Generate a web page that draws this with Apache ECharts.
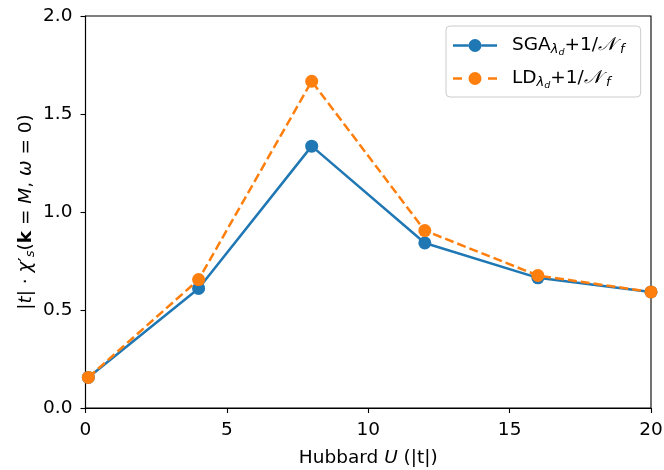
<!DOCTYPE html>
<html>
<head>
<meta charset="utf-8">
<script src="https://cdn.jsdelivr.net/npm/echarts@6/dist/echarts.min.js"></script>
<style>
  html, body { margin: 0; padding: 0; background: #fff; }
  #chart { width: 664px; height: 470px; }
</style>
</head>
<body>
<div id="chart"></div>
<script>
// Hubbard U values (in units of |t|)
const hubbardU = [0.1, 4, 8, 12, 16, 20];
// |t| * chi'_s(k = M, omega = 0) for each approach
const sgaValues = [0.156, 0.610, 1.336, 0.842, 0.664, 0.592];
const ldValues  = [0.156, 0.655, 1.667, 0.905, 0.676, 0.592];
const xTicks = [0, 5, 10, 15, 20];
const yTicks = [0.0, 0.5, 1.0, 1.5, 2.0];

const FONT = 'DejaVu Sans';
const FS = 18.5;
const BLUE = '#1f77b4';
const ORANGE = '#ff7f0e';

const pair = (xs, ys) => xs.map((x, i) => [x, ys[i]]);

// Legend glyphs (44 x 13 box): line with a centred dot, solid or dashed.
const DOT = 'M28.5 6.5 A6.5 6.5 0 1 1 15.5 6.5 A6.5 6.5 0 1 1 28.5 6.5 Z';
const SOLID_ICON = 'path://M0 5.3 L15.5 5.3 L15.5 7.7 L0 7.7 Z M28.5 5.3 L44 5.3 L44 7.7 L28.5 7.7 Z ' + DOT;
const DASH_ICON = 'path://M0 5.3 L9 5.3 L9 7.7 L0 7.7 Z M35 5.3 L44 5.3 L44 7.7 L35 7.7 Z ' + DOT;

const subRich = {
  n: { fontFamily: FONT, fontSize: FS, color: '#000' },
  i: { fontFamily: FONT, fontSize: FS, fontStyle: 'italic', color: '#000' },
  b: { fontFamily: FONT, fontSize: FS, fontWeight: 'bold', color: '#000' },
  sp: { width: 10 },
  sub: { fontFamily: FONT, fontSize: 13, fontStyle: 'italic', color: '#000', padding: [9, 0, 0, 0] },
  subd: { fontFamily: FONT, fontSize: 9.5, fontStyle: 'italic', color: '#000', padding: [15, 0, 0, 0] }
};

const chart = echarts.init(document.getElementById('chart'), null, { renderer: 'canvas' });

chart.setOption({
  animation: false,
  backgroundColor: '#fff',
  grid: {
    left: 85.5, right: 13, top: 16, bottom: 62,
    outerBoundsMode: 'none',
    containLabel: false,
    show: true, borderColor: '#000', borderWidth: 1.1, backgroundColor: 'transparent'
  },
  legend: {
    left: 446, top: 26,
    orient: 'vertical',
    itemWidth: 44, itemHeight: 13, itemGap: 11,
    padding: [10, 16, 6, 7],
    borderColor: '#cccccc', borderWidth: 1, borderRadius: 4,
    backgroundColor: 'rgba(255,255,255,0.8)',
    formatter: function (name) {
      if (name === 'SGA') return '{sp|}{n|SGA}{sub|λ}{subd|d}{n|+1/}{i|𝒩}{sub| f}';
      return '{sp|}{n|LD}{sub|λ}{subd|d}{n|+1/}{i|𝒩}{sub| f}';
    },
    textStyle: { fontFamily: FONT, fontSize: FS, color: '#000', rich: subRich },
    data: [
      { name: 'SGA', icon: SOLID_ICON },
      { name: 'LD', icon: DASH_ICON }
    ]
  },
  xAxis: {
    type: 'value',
    min: 0, max: 20, interval: 5,
    name: '{n|Hubbard }{i|U}{n| (|t|)}',
    nameLocation: 'middle', nameGap: 41,
    nameMoveOverlap: false,
    nameTextStyle: { fontFamily: FONT, fontSize: FS, color: '#000', rich: subRich },
    axisLine: { show: true, lineStyle: { color: '#000', width: 1.1 } },
    axisTick: { show: true, inside: false, length: 5, lineStyle: { color: '#000', width: 1.1 } },
    axisLabel: { fontFamily: FONT, fontSize: FS, color: '#000', margin: 13,
      formatter: v => String(v) },
    splitLine: { show: false }
  },
  yAxis: {
    type: 'value',
    min: 0, max: 2, interval: 0.5,
    name: '{n||}{i|t}{n|| · }{i|χ}{n|′}{sub|s}{n|(}{b|k}{n| = }{i|M}{n|, }{i|ω}{n| = 0)}',
    nameLocation: 'middle', nameGap: 48, nameRotate: 90,
    nameMoveOverlap: false,
    nameTextStyle: { fontFamily: FONT, fontSize: FS, color: '#000', rich: subRich },
    axisLine: { show: true, lineStyle: { color: '#000', width: 1.1 } },
    axisTick: { show: true, inside: false, length: 5, lineStyle: { color: '#000', width: 1.1 } },
    axisLabel: { fontFamily: FONT, fontSize: FS, color: '#000', margin: 13,
      formatter: v => v.toFixed(1) },
    splitLine: { show: false }
  },
  series: [
    {
      name: 'SGA',
      type: 'line',
      data: pair(hubbardU, sgaValues),
      color: BLUE,
      symbol: 'circle', symbolSize: 13,
      lineStyle: { color: BLUE, width: 2.5 },
      itemStyle: { color: BLUE },
      z: 2
    },
    {
      name: 'LD',
      type: 'line',
      data: pair(hubbardU, ldValues),
      color: ORANGE,
      symbol: 'circle', symbolSize: 13,
      lineStyle: { color: ORANGE, width: 2.5, type: [9, 4] },
      itemStyle: { color: ORANGE },
      z: 3
    }
  ]
});
</script>
</body>
</html>
